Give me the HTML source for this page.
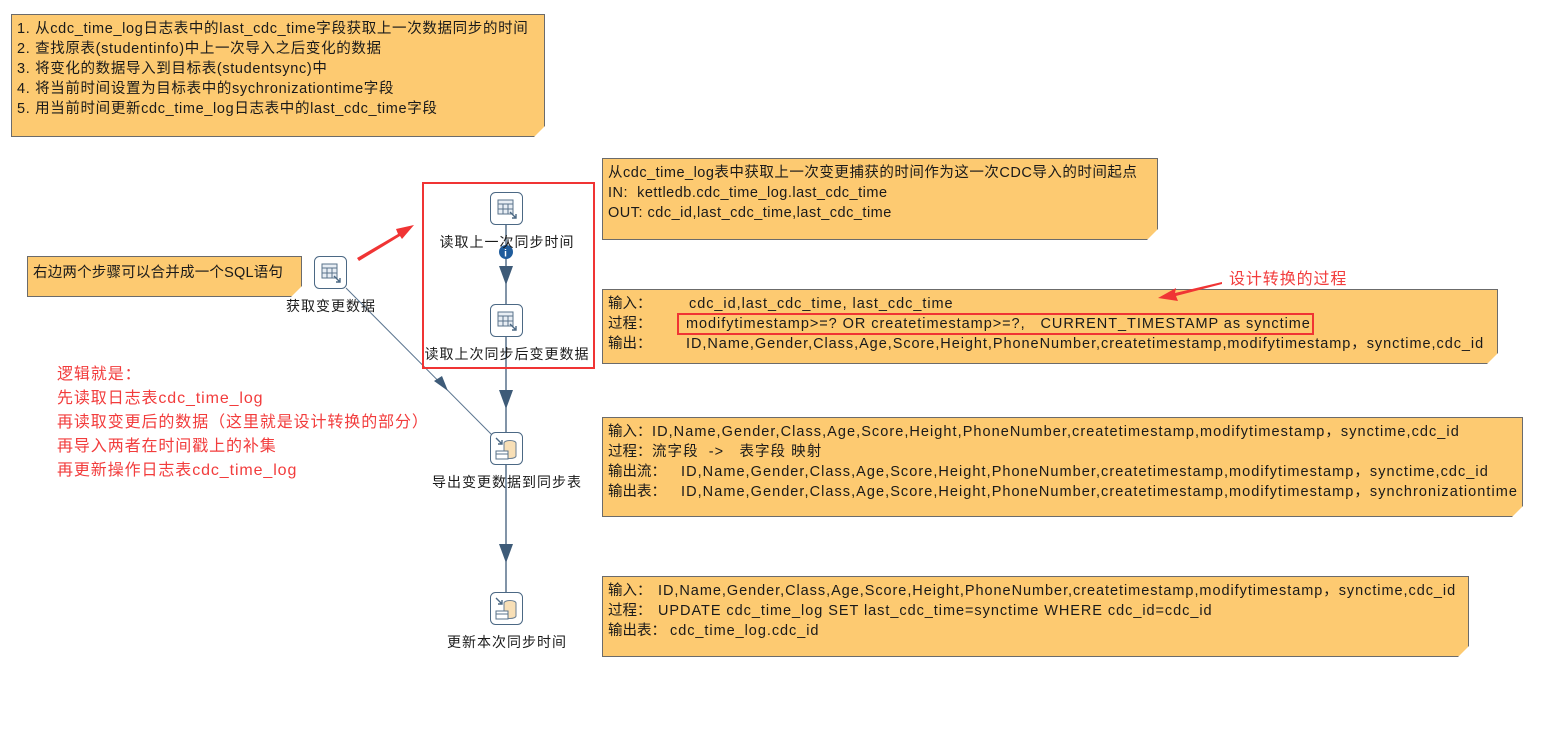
<!DOCTYPE html>
<html><head><meta charset="utf-8"><style>
body{margin:0;width:1551px;height:729px;background:#fff;position:relative;overflow:hidden;font-family:"Liberation Sans","Noto Sans CJK SC",sans-serif;font-size:14.5px;letter-spacing:0.95px;color:#1a1a1a}
.n{position:absolute;background:#fdca71;border:1px solid #6b6b6b;box-sizing:border-box;padding:4px 0 0 5px;line-height:20px;white-space:nowrap}
.n .c{position:absolute;right:-1px;bottom:-1px;width:0;height:0;border-style:solid;border-width:0 0 11px 11px;border-color:transparent transparent #fff transparent}
.l{display:inline-block;letter-spacing:0}
.lbl{position:absolute;font-size:14px;letter-spacing:1px;white-space:nowrap;transform:translateX(-50%)}
.red{position:absolute;color:#f23c3c;font-size:16px;letter-spacing:0.9px;line-height:24px;white-space:nowrap}
</style></head><body>

<div class="n" style="left:11px;top:14px;width:534px;height:123px;letter-spacing:0.65px">
1. 从cdc_time_log日志表中的last_cdc_time字段获取上一次数据同步的时间<br>
2. 查找原表(studentinfo)中上一次导入之后变化的数据<br>
3. 将变化的数据导入到目标表(studentsync)中<br>
4. 将当前时间设置为目标表中的sychronizationtime字段<br>
5. 用当前时间更新cdc_time_log日志表中的last_cdc_time字段
<div class="c"></div></div>

<div class="n" style="left:602px;top:158px;width:556px;height:82px;letter-spacing:0.5px">
从cdc_time_log表中获取上一次变更捕获的时间作为这一次CDC导入的时间起点<br>
IN:&nbsp; kettledb.cdc_time_log.last_cdc_time<br>
OUT: cdc_id,last_cdc_time,last_cdc_time
<div class="c"></div></div>

<div class="n" style="left:602px;top:289px;width:896px;height:75px">
<span class="l" style="width:81px">输入：</span>cdc_id,last_cdc_time, last_cdc_time<br>
<span class="l" style="width:78px">过程：</span>modifytimestamp&gt;=? OR createtimestamp&gt;=?,&nbsp;&nbsp; CURRENT_TIMESTAMP as synctime<br>
<span class="l" style="width:78px">输出：</span>ID,Name,Gender,Class,Age,Score,Height,PhoneNumber,createtimestamp,modifytimestamp，synctime,cdc_id
<div class="c"></div></div>

<div class="n" style="left:602px;top:417px;width:921px;height:100px;letter-spacing:1.05px">
<span class="l" style="width:44px">输入：</span>ID,Name,Gender,Class,Age,Score,Height,PhoneNumber,createtimestamp,modifytimestamp，synctime,cdc_id<br>
<span class="l" style="width:44px">过程：</span>流字段&nbsp; -&gt;&nbsp;&nbsp; 表字段 映射<br>
<span class="l" style="width:73px">输出流：</span>ID,Name,Gender,Class,Age,Score,Height,PhoneNumber,createtimestamp,modifytimestamp，synctime,cdc_id<br>
<span class="l" style="width:73px">输出表：</span>ID,Name,Gender,Class,Age,Score,Height,PhoneNumber,createtimestamp,modifytimestamp，synchronizationtime
<div class="c"></div></div>

<div class="n" style="left:602px;top:576px;width:867px;height:81px">
<span class="l" style="width:50px">输入：</span>ID,Name,Gender,Class,Age,Score,Height,PhoneNumber,createtimestamp,modifytimestamp，synctime,cdc_id<br>
<span class="l" style="width:50px">过程：</span>UPDATE cdc_time_log SET last_cdc_time=synctime WHERE cdc_id=cdc_id<br>
<span class="l" style="width:62px">输出表：</span>cdc_time_log.cdc_id
<div class="c"></div></div>

<div class="n" style="left:27px;top:256px;width:275px;height:41px;padding-top:6px;letter-spacing:0.2px">
右边两个步骤可以合并成一个SQL语句
<div class="c"></div></div>

<svg width="1551" height="729" style="position:absolute;left:0;top:0">
<defs>
<g id="tbl">
<rect x="0.5" y="0.5" width="32" height="32" rx="5" fill="#fff" stroke="#4b6884"/>
<rect x="8" y="8" width="15" height="14" fill="#e8eef4" stroke="#5a738b"/>
<line x1="8" y1="12" x2="23" y2="12" stroke="#5a738b"/><line x1="8" y1="17" x2="23" y2="17" stroke="#5a738b"/>
<line x1="13" y1="12" x2="13" y2="22" stroke="#5a738b"/><line x1="18" y1="12" x2="18" y2="22" stroke="#5a738b"/>
<path d="M20 20 L26 26 M26 22 L26 26 L22 26" stroke="#4b6884" fill="none" stroke-width="1.4"/>
</g>
<g id="db">
<rect x="0.5" y="0.5" width="32" height="32" rx="5" fill="#fff" stroke="#4b6884"/>
<path d="M6 6 L12 12 M12 8 L12 12 L8 12" stroke="#4b6884" fill="none" stroke-width="1.4"/>
<ellipse cx="20" cy="11" rx="6" ry="2.5" fill="#f8dfb6" stroke="#6b7f93"/>
<path d="M14 11 V24 A6 2.5 0 0 0 26 24 V11" fill="#f8dfb6" stroke="#6b7f93"/>
<rect x="6" y="19" width="12" height="8" fill="#fff" stroke="#5a738b"/>
<line x1="6" y1="22" x2="18" y2="22" stroke="#5a738b"/>
</g>
</defs>
<line x1="506" y1="224" x2="506" y2="592" stroke="#3e5b78" stroke-width="1.3"/>
<line x1="346" y1="288" x2="494" y2="437" stroke="#5b7590" stroke-width="1"/>
<path d="M499 266 L513 266 L506 285 Z" fill="#3e5b78"/>
<path d="M499 390 L513 390 L506 409 Z" fill="#3e5b78"/>
<path d="M499 544 L513 544 L506 563 Z" fill="#3e5b78"/>
<path d="M434 381 L448 391 L442 376 Z" fill="#3e5b78"/>
<use href="#tbl" x="314" y="256"/>
<use href="#tbl" x="490" y="192"/>
<use href="#tbl" x="490" y="304"/>
<use href="#db" x="490" y="432"/>
<use href="#db" x="490" y="592"/>
<circle cx="506" cy="252" r="7" fill="#1f5c9c"/>
<text x="506" y="256.5" font-size="10" font-weight="bold" fill="#fff" text-anchor="middle" font-family="Liberation Sans">i</text>
<rect x="423" y="183" width="171" height="185" fill="none" stroke="#f03434" stroke-width="2"/>
<rect x="678" y="314" width="635" height="20" fill="none" stroke="#f03434" stroke-width="2"/>
<path d="M357 258 L398 234 L396 229 L414 225 L402 239 L400 236 L359 261 Z" fill="#f03434"/>
<path d="M1222 282 L1175 293 L1176 288 L1158 298 L1178 301 L1176 296 L1222 284 Z" fill="#f03434"/>
</svg>

<div class="lbl" style="left:331px;top:296px">获取变更数据</div>
<div class="lbl" style="left:507px;top:232px">读取上一次同步时间</div>
<div class="lbl" style="left:507px;top:344px">读取上次同步后变更数据</div>
<div class="lbl" style="left:507px;top:472px">导出变更数据到同步表</div>
<div class="lbl" style="left:507px;top:632px">更新本次同步时间</div>

<div class="red" style="left:57px;top:363px">逻辑就是：<br>先读取日志表cdc_time_log<br>再读取变更后的数据（这里就是设计转换的部分）<br>再导入两者在时间戳上的补集<br>再更新操作日志表cdc_time_log</div>
<div class="red" style="left:1229px;top:268px">设计转换的过程</div>
</body></html>
